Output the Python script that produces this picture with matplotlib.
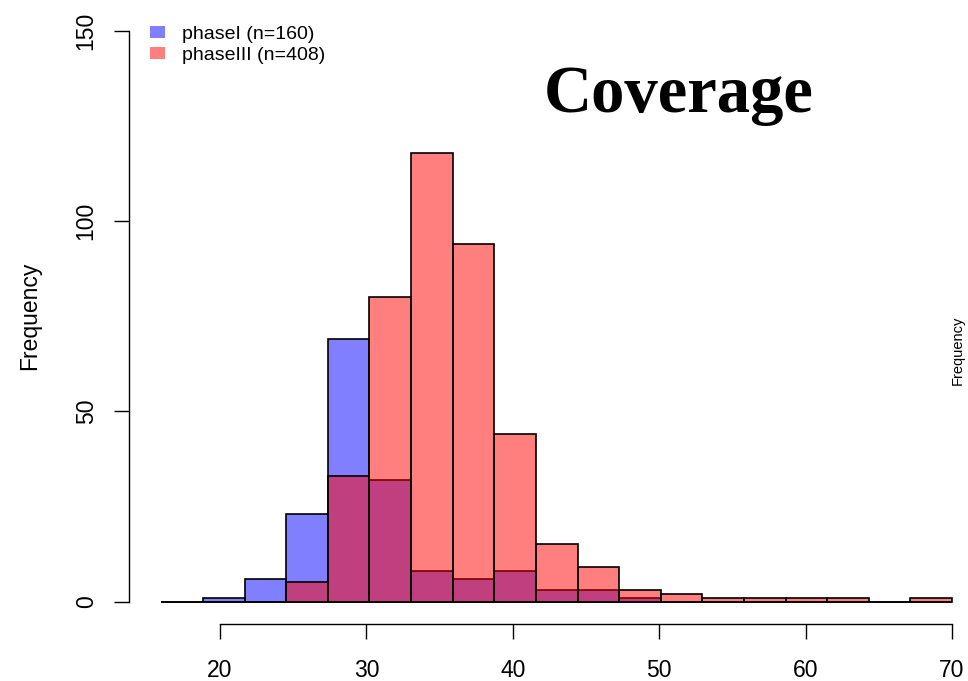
import numpy as np
import matplotlib
matplotlib.use('Agg')
import matplotlib.pyplot as plt
from matplotlib.patches import Patch

# bin breaks (R style hist, 19 bins from 16 to 70)
breaks = np.linspace(16, 70, 20)
phase1_counts = [0, 1, 6, 23, 69, 32, 8, 6, 8, 3, 3, 1, 0, 0, 0, 0, 0, 0, 0]
phase3_counts = [0, 0, 0, 5, 33, 80, 118, 94, 44, 15, 9, 3, 2, 1, 1, 1, 1, 0, 1]
labels = ['phaseI (n=160)', 'phaseIII (n=408)']
x_ticks = [20, 30, 40, 50, 60, 70]
y_ticks = [0, 50, 100, 150]

plt.rcParams['font.family'] = ['Liberation Sans', 'DejaVu Sans']

W, H = 968, 681
fig = plt.figure(figsize=(W / 100, H / 100), dpi=100)
# axes box in pixels: left spine at x=129, bottom spine at y=624
ax = fig.add_axes([129 / W, (H - 624) / H, (W - 129) / W, (624 - 20) / H])

px_x = 14.64   # pixels per unit on x
px_y = 3.803   # pixels per unit on y
ax.set_xlim(20 - (220 - 129) / px_x, 20 + (W - 220) / px_x)
ax.set_ylim(-(624 - 601.5) / px_y, (601.5 - 20) / px_y)

left = breaks[:-1]
width = np.diff(breaks)
blue = (0, 0, 1, 0.5)
red = (1, 0, 0, 0.5)
ax.bar(left, phase1_counts, width=width, align='edge', facecolor=blue,
       edgecolor='black', linewidth=1.2)
ax.bar(left, phase3_counts, width=width, align='edge', facecolor=red,
       edgecolor='black', linewidth=1.2)

for s in ['top', 'right', 'bottom']:
    ax.spines[s].set_visible(False)
ax.spines['left'].set_bounds(y_ticks[0], y_ticks[-1])
ax.spines['left'].set_linewidth(1.0)
# R style x axis: line only between first and last tick
ax.plot([x_ticks[0], x_ticks[-1]], [0, 0], color='black', linewidth=1.0,
        transform=ax.get_xaxis_transform(), clip_on=False)

ax.set_xticks(x_ticks)
ax.set_yticks(y_ticks)
ax.set_xticklabels([str(t) for t in x_ticks])
ax.set_yticklabels([str(t) for t in y_ticks], rotation=90, va='center')
ax.tick_params(axis='both', direction='out', length=10.5, width=1.0,
               labelsize=16.5, colors='black')
ax.tick_params(axis='x', pad=15)
ax.tick_params(axis='y', pad=12)

fig.text(30 / W, 1 - 316 / H, 'Frequency', rotation=90, ha='center',
         va='center', fontsize=16.5)
fig.text(958 / W, 1 - 350 / H, 'Frequency', rotation=90, ha='center',
         va='center', fontsize=10.5)

fig.text(679 / W, 1 - 95 / H, 'Coverage', ha='center', va='center',
         fontsize=48, fontweight='bold', family='Liberation Serif')

handles = [Patch(facecolor=blue, edgecolor='none'),
           Patch(facecolor=red, edgecolor='none')]
ax.legend(handles, labels, loc='upper left',
          bbox_to_anchor=(134 / W, 1 - 10 / H), bbox_transform=fig.transFigure,
          frameon=False, fontsize=14, handlelength=0.8, handleheight=0.62,
          handletextpad=0.85, labelspacing=0.2, borderpad=0.3)

fig.savefig('out.png', dpi=100)
